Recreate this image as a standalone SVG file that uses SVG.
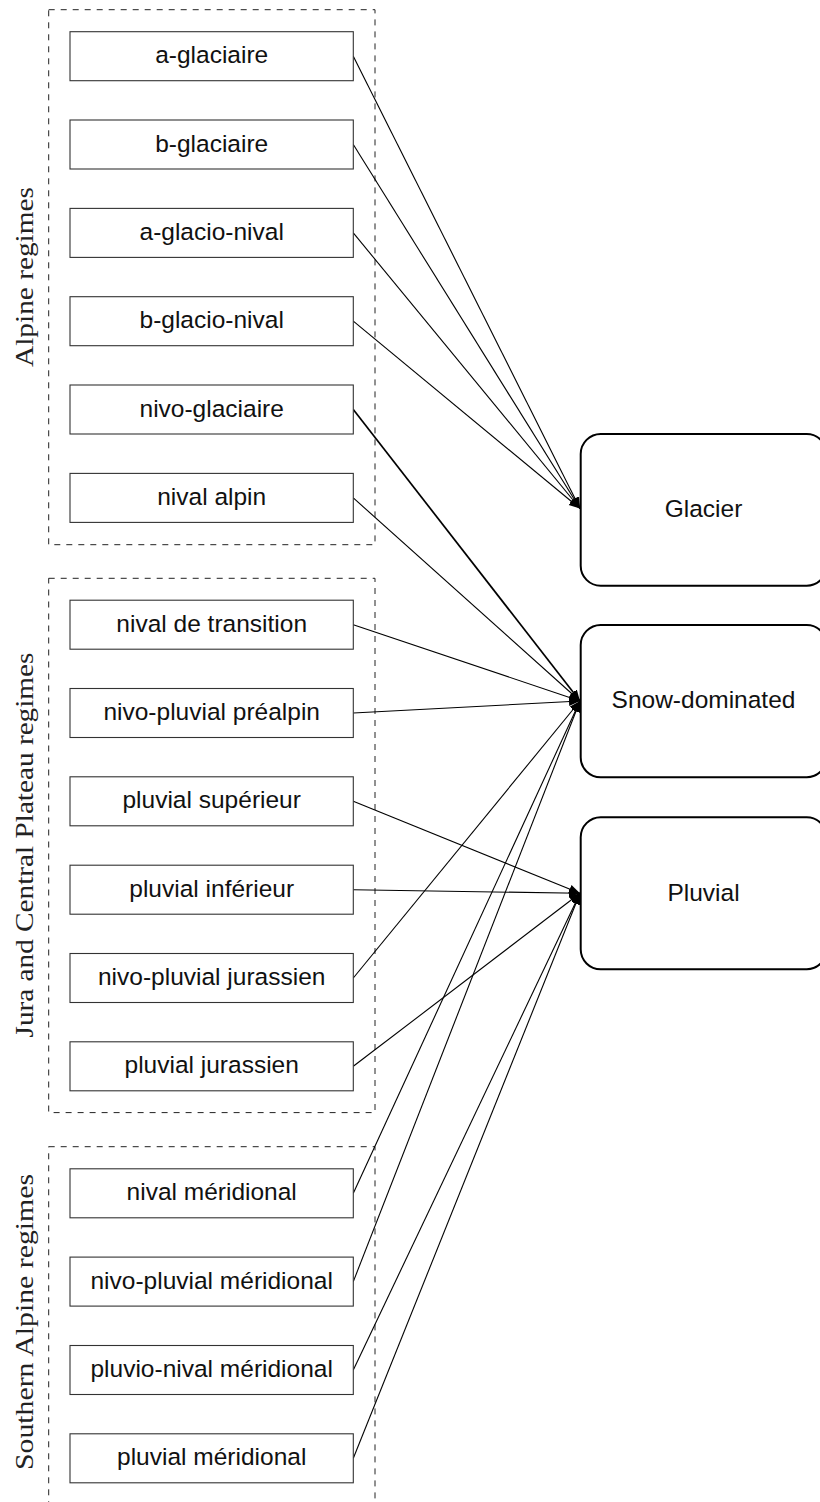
<svg xmlns="http://www.w3.org/2000/svg" width="820" height="1502" viewBox="0 0 820 1502">
<style>
.grp{fill:none;stroke:#222;stroke-width:1;stroke-dasharray:6 6}
.glabel{font-family:"Liberation Serif","DejaVu Serif",serif;font-size:25px;fill:#222;text-anchor:middle}
.box{fill:#fff;stroke:#333;stroke-width:1.1}
.lbl{font-family:"Liberation Sans",Arial,sans-serif;font-size:24.5px;fill:#111;text-anchor:middle}
.tgt{fill:#fff;stroke:#000;stroke-width:2}
.edge{stroke:#000;stroke-width:1.1;fill:none;marker-end:url(#arr)}
</style>
<defs>
<marker id="arr" markerUnits="userSpaceOnUse" markerWidth="12" markerHeight="10" refX="11" refY="4.5" orient="auto">
<path d="M0,0 L11,4.5 L0,9 Z" fill="#000"/>
</marker>
</defs>
<rect width="820" height="1502" fill="#fff"/>

<g id="group-alpine">
<rect class="grp" x="48.7" y="9.7" width="326.3" height="535"/>
<text class="glabel" transform="translate(33,277) rotate(-90)" textLength="180" lengthAdjust="spacingAndGlyphs">Alpine regimes</text>
</g>
<g id="group-jura">
<rect class="grp" x="48.7" y="578.3" width="326.3" height="534.3"/>
<text class="glabel" transform="translate(33,845) rotate(-90)" textLength="385" lengthAdjust="spacingAndGlyphs">Jura and Central Plateau regimes</text>
</g>
<g id="group-southern">
<rect class="grp" x="48.7" y="1146.7" width="326.3" height="358"/>
<text class="glabel" transform="translate(33,1322) rotate(-90)" textLength="296" lengthAdjust="spacingAndGlyphs">Southern Alpine regimes</text>
</g>

<g id="connectors">
<line class="edge" x1="353.3" y1="56.2" x2="580" y2="508.5"/>
<line class="edge" x1="353.3" y1="144.5" x2="580" y2="508.5"/>
<line class="edge" x1="353.3" y1="232.9" x2="580" y2="508.5"/>
<line class="edge" x1="353.3" y1="321.2" x2="580" y2="508.5"/>
<line class="edge" x1="353.3" y1="409.5" x2="580" y2="701" style="stroke-width:1.7"/>
<line class="edge" x1="353.3" y1="497.9" x2="580" y2="701"/>
<line class="edge" x1="353.3" y1="624.7" x2="580" y2="701"/>
<line class="edge" x1="353.3" y1="713" x2="580" y2="701"/>
<line class="edge" x1="353.3" y1="801.3" x2="580" y2="893.3"/>
<line class="edge" x1="353.3" y1="889.7" x2="580" y2="893.3"/>
<line class="edge" x1="353.3" y1="978" x2="580" y2="701"/>
<line class="edge" x1="353.3" y1="1066.3" x2="580" y2="893.3"/>
<line class="edge" x1="353.3" y1="1193.3" x2="580" y2="701"/>
<line class="edge" x1="353.3" y1="1281.6" x2="580" y2="701"/>
<line class="edge" x1="353.3" y1="1370" x2="580" y2="893.3"/>
<line class="edge" x1="353.3" y1="1458.3" x2="580" y2="893.3"/>
</g>

<g id="n-a-glaciaire"><rect class="box" x="70" y="31.7" width="283.3" height="49"/><text class="lbl" x="211.7" y="63.2">a-glaciaire</text></g>
<g id="n-b-glaciaire"><rect class="box" x="70" y="120" width="283.3" height="49"/><text class="lbl" x="211.7" y="151.5">b-glaciaire</text></g>
<g id="n-a-glacio-nival"><rect class="box" x="70" y="208.4" width="283.3" height="49"/><text class="lbl" x="211.7" y="239.9">a-glacio-nival</text></g>
<g id="n-b-glacio-nival"><rect class="box" x="70" y="296.7" width="283.3" height="49"/><text class="lbl" x="211.7" y="328.2">b-glacio-nival</text></g>
<g id="n-nivo-glaciaire"><rect class="box" x="70" y="385" width="283.3" height="49"/><text class="lbl" x="211.7" y="416.5">nivo-glaciaire</text></g>
<g id="n-nival-alpin"><rect class="box" x="70" y="473.4" width="283.3" height="49"/><text class="lbl" x="211.7" y="504.9">nival alpin</text></g>

<g id="n-nival-de-transition"><rect class="box" x="70" y="600.2" width="283.3" height="49"/><text class="lbl" x="211.7" y="631.7">nival de transition</text></g>
<g id="n-nivo-pluvial-prealpin"><rect class="box" x="70" y="688.5" width="283.3" height="49"/><text class="lbl" x="211.7" y="720">nivo-pluvial préalpin</text></g>
<g id="n-pluvial-superieur"><rect class="box" x="70" y="776.8" width="283.3" height="49"/><text class="lbl" x="211.7" y="808.3">pluvial supérieur</text></g>
<g id="n-pluvial-inferieur"><rect class="box" x="70" y="865.2" width="283.3" height="49"/><text class="lbl" x="211.7" y="896.7">pluvial inférieur</text></g>
<g id="n-nivo-pluvial-jurassien"><rect class="box" x="70" y="953.5" width="283.3" height="49"/><text class="lbl" x="211.7" y="985">nivo-pluvial jurassien</text></g>
<g id="n-pluvial-jurassien"><rect class="box" x="70" y="1041.8" width="283.3" height="49"/><text class="lbl" x="211.7" y="1073.3">pluvial jurassien</text></g>

<g id="n-nival-meridional"><rect class="box" x="70" y="1168.8" width="283.3" height="49"/><text class="lbl" x="211.7" y="1200.3">nival méridional</text></g>
<g id="n-nivo-pluvial-meridional"><rect class="box" x="70" y="1257.1" width="283.3" height="49"/><text class="lbl" x="211.7" y="1288.6">nivo-pluvial méridional</text></g>
<g id="n-pluvio-nival-meridional"><rect class="box" x="70" y="1345.5" width="283.3" height="49"/><text class="lbl" x="211.7" y="1377">pluvio-nival méridional</text></g>
<g id="n-pluvial-meridional"><rect class="box" x="70" y="1433.8" width="283.3" height="49"/><text class="lbl" x="211.7" y="1465.3">pluvial méridional</text></g>

<g id="t-glacier"><rect class="tgt" x="580.7" y="434" width="246" height="151.7" rx="20"/><text class="lbl" x="703.5" y="516.5">Glacier</text></g>
<g id="t-snow"><rect class="tgt" x="580.7" y="625" width="246" height="152.3" rx="20"/><text class="lbl" x="703.5" y="708">Snow-dominated</text></g>
<g id="t-pluvial"><rect class="tgt" x="580.7" y="817.3" width="246" height="152" rx="20"/><text class="lbl" x="703.5" y="900.5">Pluvial</text></g>
</svg>
